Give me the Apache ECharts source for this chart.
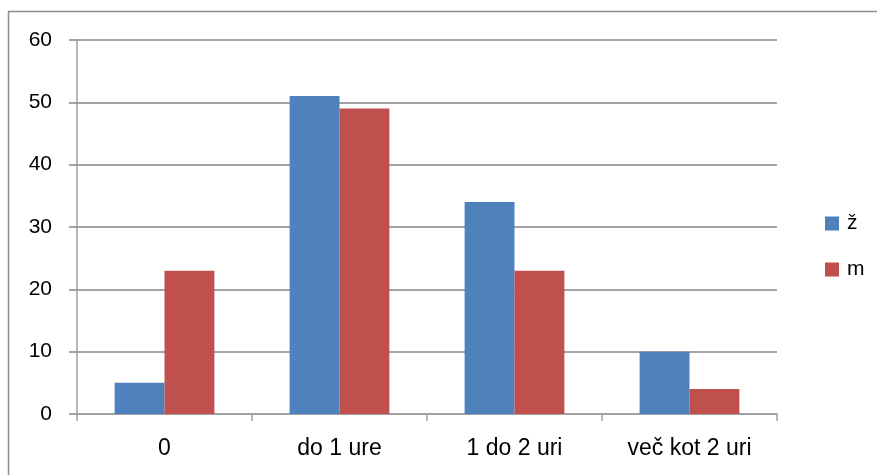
<!DOCTYPE html>
<html><head><meta charset="utf-8">
<script src="https://cdn.jsdelivr.net/npm/echarts@6/dist/echarts.min.js"></script>
<style>html,body{margin:0;padding:0;background:#fff}#c{width:877px;height:475px}</style>
</head><body><div id="c"></div>
<script>
const categories = ['0', 'do 1 ure', '1 do 2 uri', 'več kot 2 uri'];
const seriesZ = [5, 51, 34, 10];
const seriesM = [23, 49, 23, 4];
const yTicks = {min: 0, max: 60, interval: 10};
const FONT = '"Liberation Sans", "DejaVu Sans", sans-serif';
const chart = echarts.init(document.getElementById('c'), null, {renderer: 'canvas'});
chart.setOption({
  animation: false,
  backgroundColor: '#fff',
  graphic: [{
    type: 'polyline', silent: true,
    shape: {points: [[8.5, 480], [8.5, 11.5], [890, 11.5]]},
    style: {stroke: '#8c8c8c', lineWidth: 1.5, fill: null}
  }],
  grid: {left: 77, right: 100, top: 40, bottom: 61, containLabel: false},
  legend: {
    orient: 'vertical', left: 820, top: 208,
    itemWidth: 14, itemHeight: 14, itemGap: 25,
    icon: 'rect',
    textStyle: {fontFamily: FONT, fontSize: 21, color: '#000', padding: [0, 0, 0, 3]},
    data: ['ž', 'm']
  },
  xAxis: {
    type: 'category', data: categories,
    axisLine: {lineStyle: {color: '#a0a0a0', width: 1.5}},
    axisTick: {show: true, length: 7, alignWithLabel: false, lineStyle: {color: '#a0a0a0', width: 1.5}},
    axisLabel: {fontFamily: FONT, fontSize: 23, color: '#000', margin: 23},
    splitLine: {show: false}
  },
  yAxis: {
    type: 'value', min: yTicks.min, max: yTicks.max, interval: yTicks.interval,
    axisLine: {show: true, lineStyle: {color: '#a0a0a0', width: 1.5}},
    axisTick: {show: true, length: 8, lineStyle: {color: '#868686', width: 1.5}},
    axisLabel: {fontFamily: FONT, fontSize: 21, color: '#000', margin: 25},
    splitLine: {show: true, lineStyle: {color: '#868686', width: 1.5}}
  },
  series: [
    {name: 'ž', type: 'bar', data: seriesZ, barGap: '0%', barCategoryGap: '43%',
     itemStyle: {color: '#4F81BD'}},
    {name: 'm', type: 'bar', data: seriesM, barGap: '0%', barCategoryGap: '43%',
     itemStyle: {color: '#C0504D'}}
  ]
});
</script></body></html>
